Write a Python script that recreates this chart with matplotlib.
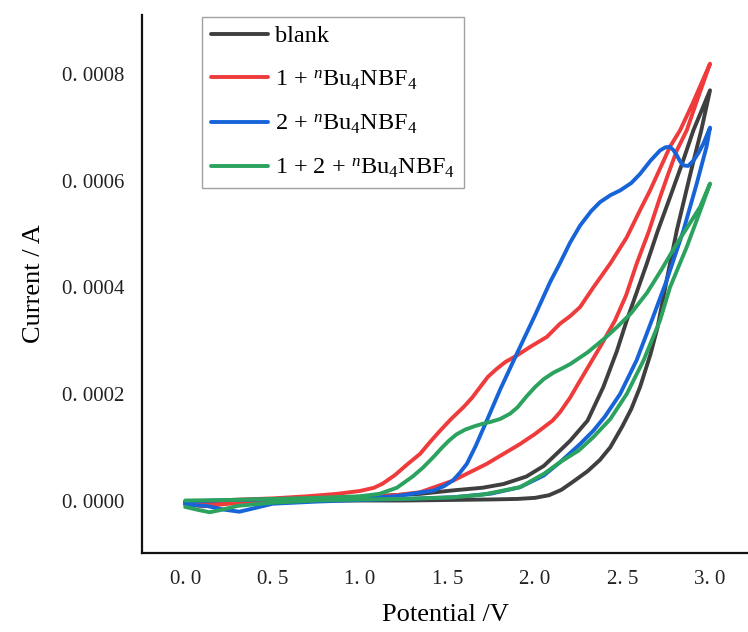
import matplotlib
matplotlib.use("Agg")
import matplotlib.pyplot as plt
from matplotlib.ticker import FixedLocator, FuncFormatter

plt.rcParams["font.family"] = ["Liberation Serif", "DejaVu Serif"]
plt.rcParams["mathtext.fontset"] = "custom"
plt.rcParams["mathtext.rm"] = "Liberation Serif"
plt.rcParams["mathtext.it"] = "Liberation Serif:italic"

# ---- cyclic voltammetry data (potential in V, current in A) ----
# blank electrolyte
blank_fwd_v = [0.0, 0.25, 0.5, 0.75, 1.0, 1.25, 1.5, 1.75, 1.9, 2.0, 2.08, 2.15, 2.22, 2.3,
               2.37, 2.43, 2.5, 2.55, 2.6, 2.66, 2.7, 2.75, 2.81, 2.9, 2.95, 3.0]
blank_fwd_i = [-0.000004, -0.000003, -0.000001, 0.0, 0.0, 0.0, 0.000001, 0.000002, 0.000003,
               0.000005, 0.000010, 0.000020, 0.000036, 0.000055, 0.000076, 0.0001, 0.000140,
               0.000172, 0.000213, 0.000275, 0.000325, 0.000410, 0.000507, 0.000630, 0.000695,
               0.00077]
blank_rev_v = [3.0, 2.905, 2.84, 2.771, 2.7, 2.638, 2.58, 2.524, 2.467, 2.39, 2.3, 2.2, 2.143,
               2.05, 1.95, 1.82, 1.7, 1.53, 1.343, 1.0, 0.75, 0.5, 0.25, 0.0]
blank_rev_i = [0.00077, 0.000695, 0.000632, 0.000569, 0.000505, 0.000444, 0.000390, 0.000338,
               0.000280, 0.000213, 0.000150, 0.000112, 0.000094, 0.000065, 0.000045, 0.000031,
               0.000024, 0.000019, 0.0000125, 0.000007, 0.000004, 0.000002, -0.000001, -0.000004]

# 1 + nBu4NBF4
red_fwd_v = [0.0, 0.1, 0.25, 0.5, 0.75, 1.0, 1.2, 1.343, 1.533, 1.724, 1.914, 2.0, 2.1,
             2.143, 2.2, 2.257, 2.371, 2.457, 2.52, 2.58, 2.65, 2.714, 2.76, 2.81, 2.867,
             2.93, 3.0]
red_fwd_i = [-0.000006, -0.000011, -0.000006, -0.000001, 0.000002, 0.000005, 0.000010,
             0.0000156, 0.0000376, 0.0000689, 0.000106, 0.000125, 0.000150, 0.000166,
             0.000193, 0.000225, 0.000288, 0.000338, 0.000385, 0.000444, 0.000505, 0.000569,
             0.000612, 0.000657, 0.000695, 0.000755, 0.00082]
red_rev_v = [3.0, 2.9, 2.829, 2.771, 2.71, 2.657, 2.6, 2.524, 2.43, 2.333, 2.257, 2.2, 2.143,
             2.067, 1.98, 1.895, 1.83, 1.78, 1.73, 1.686, 1.64, 1.59, 1.52, 1.457, 1.40,
             1.343, 1.27, 1.2, 1.13, 1.08, 1.0, 0.867, 0.7, 0.5, 0.25, 0.0]
red_rev_i = [0.00082, 0.000745, 0.000695, 0.000664, 0.000620, 0.000582, 0.000545, 0.000494,
             0.000445, 0.000400, 0.000363, 0.000346, 0.000332, 0.000307, 0.000290, 0.000272,
             0.000260, 0.000247, 0.000232, 0.000213, 0.000193, 0.000175, 0.000153, 0.000131,
             0.000110, 0.0000877, 0.000068, 0.000048, 0.000032, 0.000024, 0.000018,
             0.0000125, 0.000008, 0.000004, 0.000001, -0.000006]

# 2 + nBu4NBF4
blue_fwd_v = [0.0, 0.25, 0.5, 0.75, 1.0, 1.2, 1.42, 1.48, 1.53, 1.57, 1.61, 1.66, 1.724,
              1.8, 1.895, 2.0, 2.086, 2.143, 2.2, 2.257, 2.32, 2.371, 2.43, 2.486, 2.55, 2.6,
              2.66, 2.714, 2.745, 2.77, 2.79, 2.81, 2.83, 2.848, 2.875, 2.905, 2.935, 2.962,
              3.0]
blue_fwd_i = [-0.000002, 0.000001, 0.000002, 0.000003, 0.000004, 0.000008, 0.0000188,
              0.000027, 0.0000376, 0.000052, 0.0000689, 0.000102, 0.000150, 0.000208,
              0.000275, 0.000348, 0.000410, 0.000446, 0.000484, 0.000516, 0.000543, 0.000560,
              0.000573, 0.000582, 0.000596, 0.000613, 0.000638, 0.000657, 0.000663, 0.000664,
              0.000658, 0.000648, 0.000636, 0.000629, 0.000628, 0.000638, 0.000653, 0.00067,
              0.0007]
blue_rev_v = [3.0, 2.98, 2.924, 2.848, 2.752, 2.667, 2.58, 2.486, 2.4, 2.333, 2.257, 2.143,
              2.05, 1.914, 1.75, 1.533, 1.25, 1.0, 0.75, 0.5, 0.4, 0.31, 0.22, 0.12, 0.0]
blue_rev_i = [0.0007, 0.000664, 0.000595, 0.000507, 0.000413, 0.000338, 0.000263, 0.0002,
              0.000158, 0.000131, 0.000106, 0.000072, 0.000047, 0.000025, 0.000013,
              0.0000062, 0.000003, 0.000001, -0.000002, -0.000006, -0.000014, -0.000021,
              -0.000017, -0.000010, -0.000008]

# 1 + 2 + nBu4NBF4
green_fwd_v = [0.0, 0.25, 0.5, 0.75, 1.0, 1.11, 1.21, 1.3, 1.36, 1.42, 1.47, 1.51, 1.55,
               1.6, 1.65, 1.7, 1.75, 1.8, 1.857, 1.9, 1.95, 2.0, 2.05, 2.105, 2.16, 2.2, 2.3,
               2.4, 2.47, 2.55, 2.64, 2.72, 2.81, 2.88, 2.943, 3.0]
green_fwd_i = [0.0, 0.000001, 0.000003, 0.000005, 0.000008, 0.0000125, 0.000024, 0.000045,
               0.000062, 0.000082, 0.000100, 0.000113, 0.000124, 0.000133, 0.000139,
               0.000144, 0.000148, 0.000153, 0.000163, 0.000175, 0.000195, 0.000213,
               0.000228, 0.000240, 0.000249, 0.000256, 0.000278, 0.000305, 0.000326, 0.000352,
               0.000390, 0.000432, 0.000482, 0.000518, 0.000551, 0.000595]
green_rev_v = [3.0, 2.952, 2.867, 2.771, 2.714, 2.62, 2.524, 2.43, 2.333, 2.25, 2.143, 2.05,
               1.914, 1.7, 1.533, 1.25, 1.0, 0.75, 0.5, 0.3, 0.2, 0.14, 0.08, 0.0]
green_rev_i = [0.000595, 0.000551, 0.000476, 0.0004, 0.000338, 0.000263, 0.0002, 0.000153,
               0.000119, 0.000094, 0.000072, 0.000050, 0.000025, 0.000011, 0.000006,
               0.000003, 0.000002, 0.0, -0.000004, -0.000010, -0.000018, -0.000022,
               -0.000018, -0.000012]

series = [
    ("blank", "#3f3f3f", blank_fwd_v + blank_rev_v, blank_fwd_i + blank_rev_i),
    (r"1 + $^{\mathit{n}}$Bu$_4$NBF$_4$", "#ef3b3b", red_fwd_v + red_rev_v, red_fwd_i + red_rev_i),
    (r"2 + $^{\mathit{n}}$Bu$_4$NBF$_4$", "#1764d8", blue_fwd_v + blue_rev_v, blue_fwd_i + blue_rev_i),
    (r"1 + 2 + $^{\mathit{n}}$Bu$_4$NBF$_4$", "#2ca25f", green_fwd_v + green_rev_v, green_fwd_i + green_rev_i),
]

x_ticks = [0.0, 0.5, 1.0, 1.5, 2.0, 2.5, 3.0]
y_ticks = [0.0, 0.0002, 0.0004, 0.0006, 0.0008]

fig = plt.figure(figsize=(7.48, 6.32), dpi=100)
ax = fig.add_axes([0.19, 0.125, 0.81, 0.851])

for label, color, v, i in series:
    ax.plot(v, i, color=color, lw=2.8, label=label, solid_joinstyle="round",
            solid_capstyle="round")

ax.set_xlim(-0.246, 3.217)
ax.set_ylim(-0.0000985, 0.000911)

ax.xaxis.set_major_locator(FixedLocator(x_ticks))
ax.yaxis.set_major_locator(FixedLocator(y_ticks))
ax.xaxis.set_major_formatter(FuncFormatter(lambda v, p: f"{v:.1f}".replace(".", ". ")))
ax.yaxis.set_major_formatter(FuncFormatter(lambda v, p: f"{v:.4f}".replace(".", ". ")))
ax.tick_params(axis="both", length=0, labelsize=15, colors="#222222")
ax.tick_params(axis="x", pad=12)
ax.tick_params(axis="y", pad=13)

for side in ("top", "right"):
    ax.spines[side].set_visible(False)
for side in ("left", "bottom"):
    ax.spines[side].set_linewidth(1.6)
    ax.spines[side].set_color("#111111")

ax.set_xlabel("Potential /V", fontsize=19, labelpad=11)
ax.set_ylabel("Current / A", fontsize=19, labelpad=12)

leg = ax.legend(loc="upper left", bbox_to_anchor=(0.099, 0.997), fontsize=17.5,
                frameon=True, fancybox=False, handlelength=2.35, handletextpad=0.3,
                borderpad=0.35, labelspacing=0.86, borderaxespad=0.0)
leg.get_frame().set_edgecolor("#8a8a8a")
leg.get_frame().set_linewidth(1.0)

fig.savefig("out.png", dpi=100)
